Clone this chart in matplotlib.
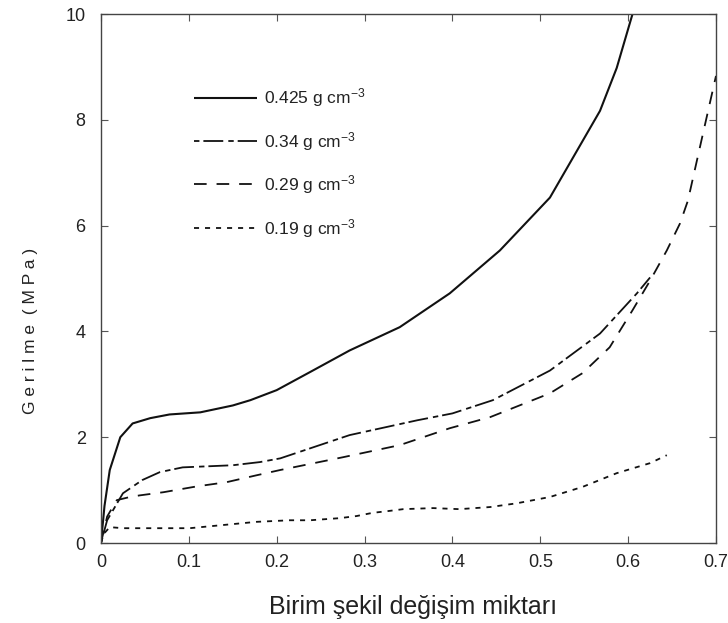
import matplotlib
matplotlib.use("Agg")
import matplotlib.pyplot as plt

plt.rcParams['font.family'] = ['Liberation Sans', 'DejaVu Sans']
plt.rcParams['mathtext.fontset'] = 'custom'
plt.rcParams['mathtext.rm'] = 'Liberation Sans'
plt.rcParams['mathtext.it'] = 'Liberation Sans'

# Data
x_425 = [0, 0.004, 0.010, 0.022, 0.036, 0.056, 0.078, 0.113, 0.150, 0.170, 0.200, 0.240, 0.283,
         0.340, 0.397, 0.454, 0.511, 0.568, 0.587, 0.605]
y_425 = [0, 0.70, 1.38, 2.00, 2.26, 2.36, 2.43, 2.47, 2.60, 2.70, 2.89, 3.25, 3.64,
         4.08, 4.72, 5.53, 6.53, 8.17, 8.98, 10.0]

x_34 = [0, 0.007, 0.025, 0.047, 0.067, 0.093, 0.150, 0.181, 0.204, 0.283, 0.360, 0.400,
        0.446, 0.511, 0.568, 0.610, 0.625]
y_34 = [0, 0.43, 0.94, 1.19, 1.34, 1.43, 1.47, 1.53, 1.60, 2.04, 2.32, 2.45,
        2.70, 3.26, 3.96, 4.72, 5.02]

x_29 = [0, 0.007, 0.018, 0.033, 0.044, 0.071, 0.109, 0.143, 0.177, 0.204, 0.275, 0.340,
        0.397, 0.443, 0.511, 0.548, 0.579, 0.605, 0.625, 0.644, 0.659, 0.668, 0.686, 0.700]
y_29 = [0, 0.50, 0.81, 0.87, 0.90, 0.96, 1.07, 1.15, 1.28, 1.38, 1.62, 1.85,
        2.17, 2.38, 2.83, 3.21, 3.70, 4.40, 4.96, 5.53, 6.04, 6.47, 7.80, 8.83]

x_19 = [0, 0.003, 0.010, 0.025, 0.067, 0.101, 0.139, 0.177, 0.215, 0.238, 0.272, 0.291,
        0.309, 0.325, 0.344, 0.378, 0.408, 0.443, 0.473, 0.511, 0.548, 0.587, 0.625, 0.644]
y_19 = [0, 0.17, 0.30, 0.28, 0.28, 0.28, 0.34, 0.40, 0.43, 0.43, 0.47, 0.51,
        0.57, 0.60, 0.64, 0.66, 0.64, 0.68, 0.75, 0.87, 1.06, 1.32, 1.51, 1.66]

labels = ["0.425 g cm$^{-3}$", "0.34 g cm$^{-3}$", "0.29 g cm$^{-3}$", "0.19 g cm$^{-3}$"]
x_ticks = [0, 0.1, 0.2, 0.3, 0.4, 0.5, 0.6, 0.7]
x_ticklabels = ["0", "0.1", "0.2", "0.3", "0.4", "0.5", "0.6", "0.7"]
y_ticks = [0, 2, 4, 6, 8, 10]
y_ticklabels = ["0", "2", "4", "6", "8", "10"]

fig = plt.figure(figsize=(7.28, 6.23), dpi=100)
ax = fig.add_axes([0.1387, 0.1284, 0.8448, 0.8491])

lw = 1.3
col = '#111111'
l1, = ax.plot(x_425, y_425, color=col, lw=1.5, solid_capstyle='butt')
l2, = ax.plot(x_34, y_34, color=col, lw=lw, dashes=(3, 2.2, 11, 2.8))
l3, = ax.plot(x_29, y_29, color=col, lw=lw, dashes=(7, 5.5))
l4, = ax.plot(x_19, y_19, color=col, lw=lw, dashes=(2.8, 3.3))

ax.set_xlim(0, 0.7)
ax.set_ylim(0, 10)
ax.set_xticks(x_ticks)
ax.set_xticklabels(x_ticklabels)
ax.set_yticks(y_ticks)
ax.set_yticklabels(y_ticklabels)
ax.tick_params(direction='in', length=5, width=0.8, color='#555555',
               top=True, right=True, labelsize=13, labelcolor='#222222')
ax.tick_params(axis='y', pad=11)
ax.tick_params(axis='x', pad=8)
for s in ax.spines.values():
    s.set_linewidth(1.0)
    s.set_color('#444444')

ax.set_xlabel("Birim şekil değişim miktarı", fontsize=18, color='#222222')
ax.xaxis.set_label_coords(0.507, -0.099)
ax.set_ylabel("G e r i l m e  ( M P a )", fontsize=12.5, color='#222222')
ax.yaxis.set_label_coords(-0.102, 0.40)

leg = ax.legend([l1, l2, l3, l4], labels, loc='upper left',
                bbox_to_anchor=(0.152, 0.863), frameon=False, fontsize=12.5,
                handlelength=3.6, handletextpad=0.4, labelspacing=1.18,
                borderpad=0.0, borderaxespad=0.0)
for t in leg.get_texts():
    t.set_color('#222222')

fig.savefig("out.png", dpi=100)
